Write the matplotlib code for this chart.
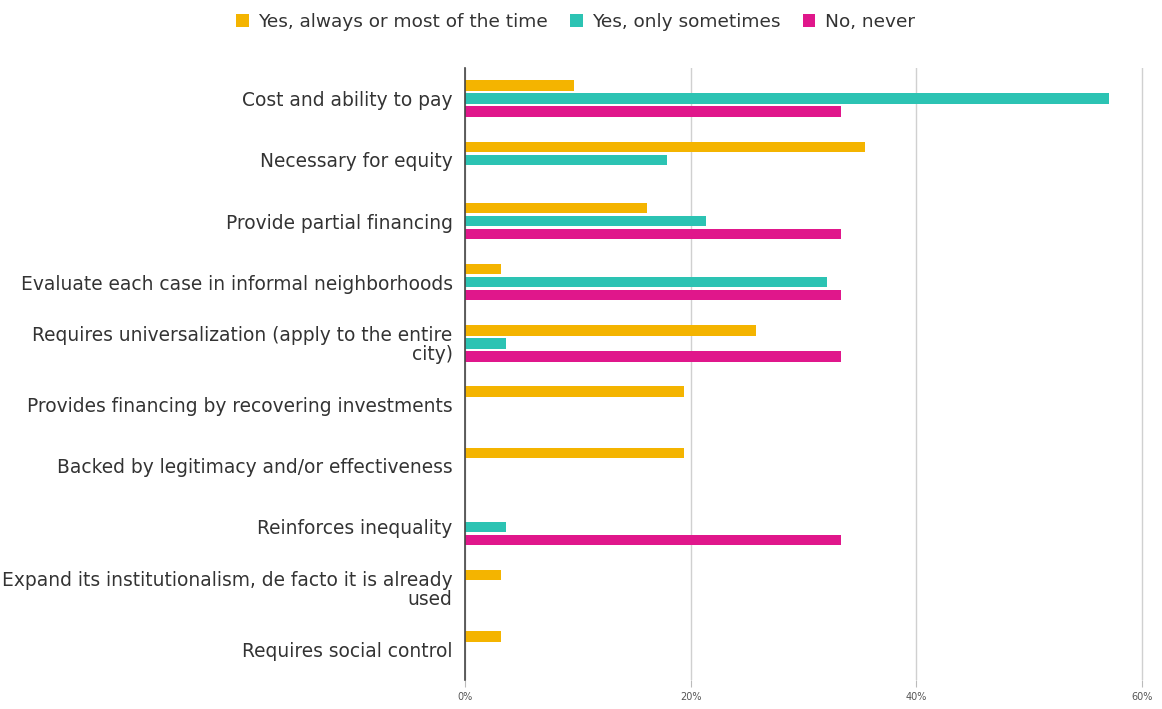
import matplotlib
matplotlib.use("Agg")
import matplotlib.pyplot as plt
import numpy as np

categories = [
    "Cost and ability to pay",
    "Necessary for equity",
    "Provide partial financing",
    "Evaluate each case in informal neighborhoods",
    "Requires universalization (apply to the entire\ncity)",
    "Provides financing by recovering investments",
    "Backed by legitimacy and/or effectiveness",
    "Reinforces inequality",
    "Expand its institutionalism, de facto it is already\nused",
    "Requires social control",
]
series_names = ["Yes, always or most of the time", "Yes, only sometimes", "No, never"]
always = [9.7, 35.5, 16.1, 3.2, 25.8, 19.4, 19.4, 0, 3.2, 3.2]
sometimes = [57.1, 17.9, 21.4, 32.1, 3.6, 0, 0, 3.6, 0, 0]
never = [33.3, 0, 33.3, 33.3, 33.3, 0, 0, 33.3, 0, 0]
xticks = [0, 20, 40, 60]
xtick_labels = ["0%", "20%", "40%", "60%"]

colors = ["#F4B400", "#2CC3B3", "#E0178B"]

plt.rcParams["font.family"] = ["DejaVu Sans"]

fig = plt.figure(figsize=(11.62, 7.09), dpi=100)
ax = fig.add_axes([0.4002, 0.041, 0.5853, 0.863])

y = np.arange(len(categories))
step = 0.212
bar_h = 0.17
for i, (vals, col, name) in enumerate(zip([always, sometimes, never], colors, series_names)):
    ax.barh(y + (i - 1) * step, vals, height=bar_h, color=col, label=name, zorder=3)

ax.set_ylim(len(categories) - 0.5, -0.5)
ax.set_xlim(0, 60.3)
ax.set_yticks(y)
ax.set_yticklabels(categories, fontsize=13.4, color="#333333", ha="right",
                   linespacing=1.0)
ax.tick_params(axis="y", length=0, pad=9)
ax.set_xticks(xticks)
ax.set_xticklabels(xtick_labels, fontsize=7, color="#555555")
ax.tick_params(axis="x", length=5, color="#bbbbbb", pad=4)

ax.grid(axis="x", color="#d0d0d0", linewidth=1, zorder=0)
for s in ["top", "right", "bottom"]:
    ax.spines[s].set_visible(False)
ax.spines["left"].set_color("#444444")
ax.spines["left"].set_linewidth(1.2)
ax.spines["left"].set_zorder(4)

fig.legend(loc="upper center", bbox_to_anchor=(0.495, 1.005), ncol=3, frameon=False,
           fontsize=13.3, handlelength=0.7, handleheight=0.7, handletextpad=0.5,
           columnspacing=1.2, labelcolor="#333333")

fig.savefig("out.png", dpi=100, facecolor="white")
